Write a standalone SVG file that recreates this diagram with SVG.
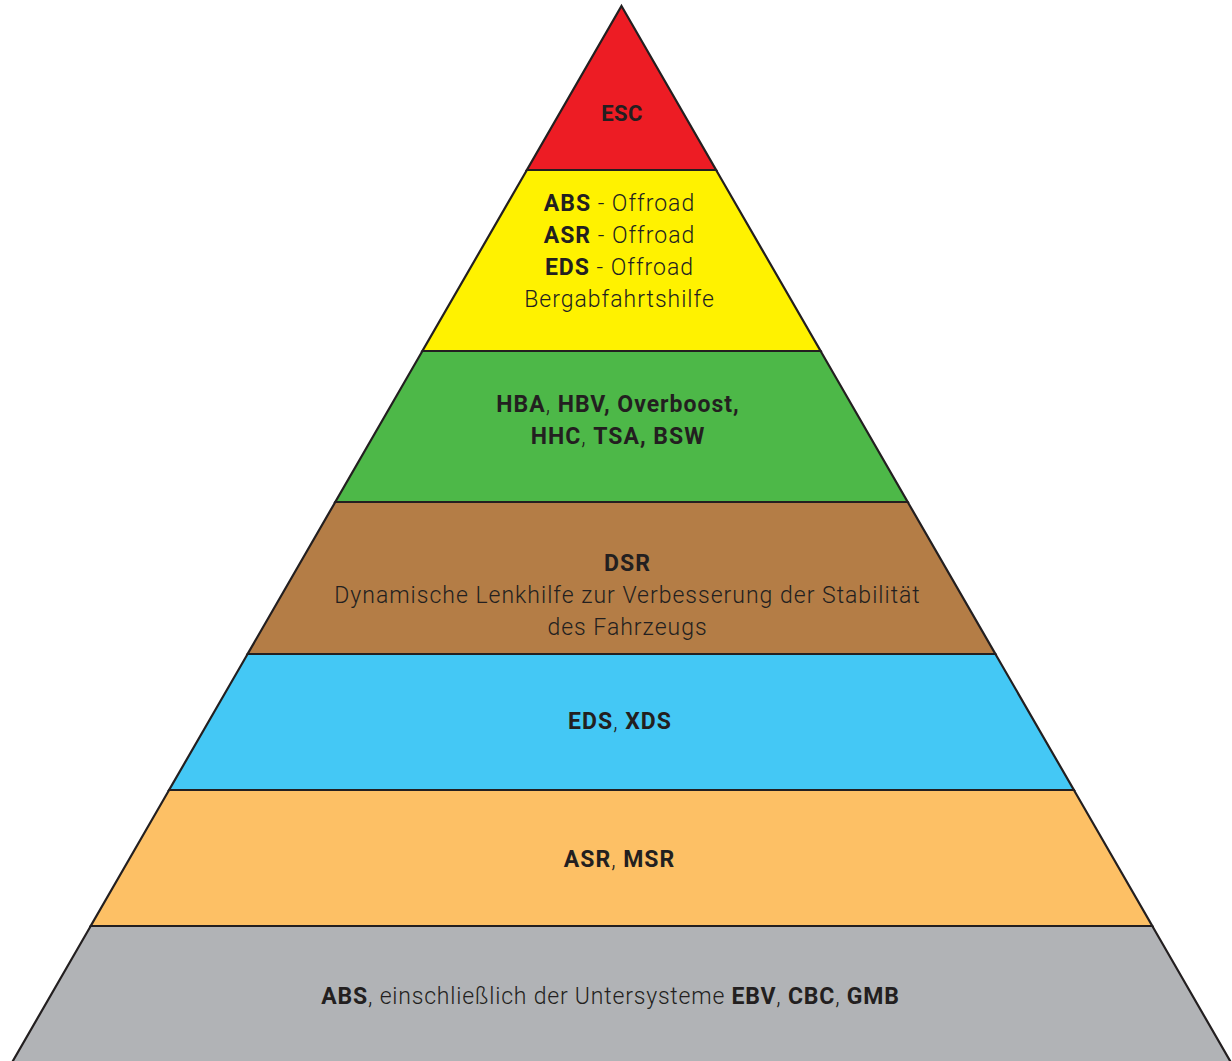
<svg xmlns="http://www.w3.org/2000/svg" width="1232" height="1061" viewBox="0 0 1232 1061">
  <style>
    .tier { stroke: #231f20; stroke-width: 2.2; stroke-linejoin: miter; }
    .lbl { font-family: Roboto, "Open Sans", "Liberation Sans", sans-serif; font-size: 23px; font-weight: 300; fill: #231f20; text-anchor: middle; letter-spacing: 1px; }
    .b { font-weight: 700; }
  </style>
  <rect width="1232" height="1061" fill="#ffffff"/>

  <!-- pyramid tiers, top to bottom -->
  <g id="tier-esc">
    <polygon class="tier" fill="#ed1c24" points="621.5,6 716.1,170 526.9,170"/>
    <text class="lbl b" x="622" y="121" style="font-size:22px;letter-spacing:0.4px">ESC</text>
  </g>
  <g id="tier-offroad">
    <polygon class="tier" fill="#fff200" points="526.9,170 716.1,170 820.6,351 422.4,351"/>
    <text class="lbl" x="619.5" y="211"><tspan class="b">ABS</tspan> - Offroad</text>
    <text class="lbl" x="619.5" y="243"><tspan class="b">ASR</tspan> - Offroad</text>
    <text class="lbl" x="619.5" y="275"><tspan class="b">EDS</tspan> - Offroad</text>
    <text class="lbl" x="619.5" y="307">Bergabfahrtshilfe</text>
  </g>
  <g id="tier-assist">
    <polygon class="tier" fill="#4db848" points="422.4,351 820.6,351 907.7,502 335.3,502"/>
    <text class="lbl" x="618" y="412"><tspan class="b">HBA</tspan>, <tspan class="b">HBV, Overboost,</tspan></text>
    <text class="lbl" x="618" y="444"><tspan class="b">HHC</tspan>, <tspan class="b">TSA, BSW</tspan></text>
  </g>
  <g id="tier-dsr">
    <polygon class="tier" fill="#b47d46" points="335.3,502 907.7,502 995.4,654 247.6,654"/>
    <text class="lbl b" x="627.5" y="571">DSR</text>
    <text class="lbl" x="627.5" y="603">Dynamische Lenkhilfe zur Verbesserung der Stabilität</text>
    <text class="lbl" x="627.5" y="635">des Fahrzeugs</text>
  </g>
  <g id="tier-eds">
    <polygon class="tier" fill="#44c8f5" points="247.6,654 995.4,654 1073.9,790 169.1,790"/>
    <text class="lbl" x="620" y="729"><tspan class="b">EDS</tspan>, <tspan class="b">XDS</tspan></text>
  </g>
  <g id="tier-asr">
    <polygon class="tier" fill="#fdc065" points="169.1,790 1073.9,790 1152.3,926 90.7,926"/>
    <text class="lbl" x="619.5" y="867"><tspan class="b">ASR</tspan>, <tspan class="b">MSR</tspan></text>
  </g>
  <g id="tier-abs">
    <polygon class="tier" fill="#b1b3b6" points="90.7,926 1152.3,926 1231.3,1063 11.7,1063"/>
    <text class="lbl" x="610.5" y="1004" style="letter-spacing:0.8px"><tspan class="b">ABS</tspan>, einschließlich der Untersysteme <tspan class="b">EBV</tspan>, <tspan class="b">CBC</tspan>, <tspan class="b">GMB</tspan></text>
  </g>

  <!-- no connectors in this figure -->
  <g id="connectors"/>
</svg>
